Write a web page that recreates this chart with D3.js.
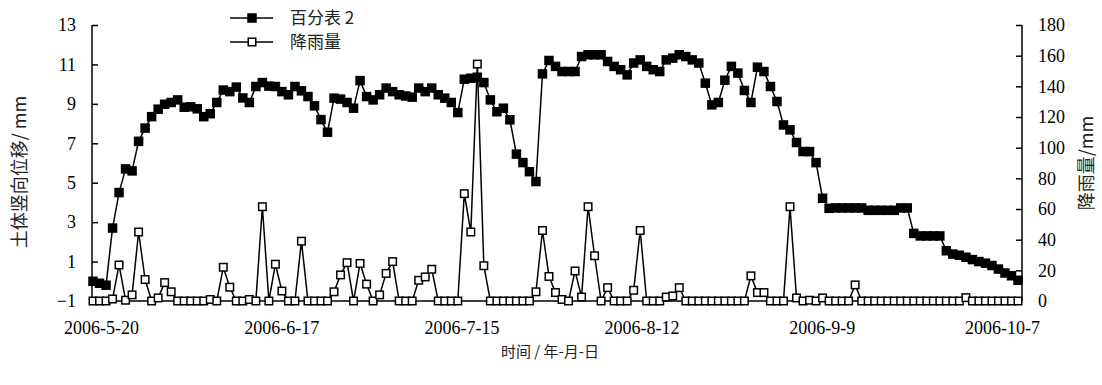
<!DOCTYPE html>
<html>
<head>
<meta charset="utf-8">
<script src="https://cdn.jsdelivr.net/npm/d3@7"></script>
<style>
  body { margin: 0; background: #fff; }
  svg text { fill: #000; }
</style>
</head>
<body>
<svg id="chart" width="1102" height="385"></svg>
<script>
// Daily readings, first observation day
const firstDay = "2006-05-19";

// x-axis tick dates (every 28 days)
const tickDates = ["2006-05-20", "2006-06-17", "2006-07-15", "2006-08-12", "2006-09-09", "2006-10-07"];
const tickDateLabels = ["2006-5-20", "2006-6-17", "2006-7-15", "2006-8-12", "2006-9-9", "2006-10-7"];

// axis ticks
const leftTicks = [-1, 1, 3, 5, 7, 9, 11, 13];
const rightTicks = [0, 20, 40, 60, 80, 100, 120, 140, 160, 180];

// dial gauge 2: vertical soil displacement (mm)
const displacement = [
  0.0, -0.1, -0.2, 2.7, 4.5, 5.7, 5.6, 7.1, 7.77, 8.35,
  8.73, 8.98, 9.07, 9.2, 8.83, 8.85, 8.75, 8.35, 8.5, 9.07,
  9.7, 9.62, 9.85, 9.3, 9.07, 9.88, 10.08, 9.9, 9.88, 9.62,
  9.46, 9.88, 9.66, 9.37, 8.9, 8.2, 7.56, 9.29, 9.24, 9.07,
  8.78, 10.18, 9.37, 9.2, 9.46, 9.8, 9.62, 9.46, 9.4, 9.34,
  9.8, 9.62, 9.8, 9.46, 9.29, 9.07, 8.56, 10.25, 10.3, 10.35,
  10.08, 9.2, 8.6, 8.78, 8.19, 6.45, 6.02, 5.56, 5.06, 10.52,
  11.2, 10.9, 10.64, 10.64, 10.64, 11.4, 11.49, 11.49, 11.49, 11.15,
  10.9, 10.73, 10.47, 11.07, 11.23, 10.9, 10.73, 10.64, 11.23, 11.32,
  11.49, 11.4, 11.23, 11.07, 10.05, 8.95, 9.07, 10.2, 10.9, 10.56,
  9.68, 9.07, 10.86, 10.64, 9.88, 9.12, 7.93, 7.68, 7.04, 6.58,
  6.58, 6.02, 4.21, 3.7, 3.72, 3.72, 3.72, 3.72, 3.72, 3.6,
  3.6, 3.6, 3.6, 3.6, 3.72, 3.72, 2.43, 2.3, 2.3, 2.3,
  2.3, 1.55, 1.38, 1.32, 1.22, 1.1, 1.0, 0.92, 0.8, 0.62,
  0.42, 0.28, 0.05
];

// daily rainfall (mm)
const rainfall = [
  0, 0, 0, 1.3, 23.5, 0.5, 4, 45, 14, 0,
  2, 12, 6, 0, 0, 0, 0, 0, 1, 0,
  22, 9, 0, 0, 1, 0, 61.5, 0, 24, 6.5,
  0, 0, 39, 0, 0, 0, 0, 6, 17, 25,
  0, 24.5, 11, 0, 4, 18, 25.7, 0, 0, 0,
  13.5, 15.7, 20.7, 0, 0, 0, 0, 70, 45, 154.5,
  23, 0, 0, 0, 0, 0, 0, 0, 6, 46,
  16, 5.5, 1, 0, 19.6, 2.6, 61.5, 29.5, 0, 8.7,
  0, 0, 0, 7, 46, 0, 0, 0, 2.6, 3.3,
  8.7, 0, 0, 0, 0, 0, 0, 0, 0, 0,
  0, 16.4, 5.5, 5.5, 0, 0, 0, 61.5, 2, 0,
  0.5, 0, 2, 0, 0, 0, 0, 10.5, 0, 0,
  0, 0, 0, 0, 0, 0, 0, 0, 0, 0,
  0, 0, 0, 0, 2.2, 0, 0, 0, 0, 0,
  0, 0, 0
];

const seriesNames = ["百分表 2", "降雨量"];
const leftTitle = "土体竖向位移/ mm";
const rightTitle = "降雨量/mm";
const bottomTitle = "时间 / 年-月-日";

const parse = d3.timeParse("%Y-%m-%d");
const day0 = parse(firstDay);
const days = displacement.map((_, i) => d3.timeDay.offset(day0, i));

const svg = d3.select("#chart");
const serif = "'Liberation Serif', 'Times New Roman', serif";
const cjk = "'Noto Sans CJK SC', sans-serif";

const plot = { left: 92, right: 1022, top: 25, bottom: 301 };

const x = d3.scaleTime()
  .domain([days[0], days[days.length - 1]])
  .range([93, 1018]);
// date labels sit on their own evenly spaced band under the plot
const xLabel = d3.scaleTime()
  .domain([parse(tickDates[0]), parse(tickDates[tickDates.length - 1])])
  .range([101, 1002]);
const yL = d3.scaleLinear().domain([-1, 13]).range([plot.bottom, plot.top]);
const yR = d3.scaleLinear().domain([0, 180]).range([plot.bottom, plot.top]);

// bottom axis line
svg.append("line")
  .attr("x1", plot.left).attr("x2", plot.right)
  .attr("y1", plot.bottom).attr("y2", plot.bottom)
  .attr("stroke", "#000").attr("stroke-width", 1.5);

// date labels
const xAxis = svg.append("g")
  .attr("transform", `translate(0,${plot.bottom})`)
  .call(d3.axisBottom(xLabel)
    .tickValues(tickDates.map(parse))
    .tickSize(0)
    .tickPadding(20)
    .tickFormat((d, i) => tickDateLabels[i]));
xAxis.select(".domain").remove();
xAxis.selectAll("text")
  .style("font-family", serif).style("font-size", "18px");

// left axis, ticks pointing inward
const gL = svg.append("g")
  .attr("transform", `translate(${plot.left},0)`)
  .call(d3.axisLeft(yL)
    .tickValues(leftTicks)
    .tickSize(-6)
    .tickPadding(16)
    .tickFormat(d => d < 0 ? "\u2212" + Math.abs(d) : d));
gL.select(".domain").attr("stroke-width", 1.5).attr("d", `M0,${plot.top}V${plot.bottom}`);
gL.selectAll(".tick line").attr("stroke-width", 1.5);
gL.selectAll("text").style("font-family", serif).style("font-size", "18px");

// right axis, ticks pointing inward
const gR = svg.append("g")
  .attr("transform", `translate(${plot.right},0)`)
  .call(d3.axisRight(yR)
    .tickValues(rightTicks)
    .tickSize(-6)
    .tickPadding(16));
gR.select(".domain").attr("stroke-width", 1.5).attr("d", `M0,${plot.top}V${plot.bottom}`);
gR.selectAll(".tick line").attr("stroke-width", 1.5);
gR.selectAll("text").style("font-family", serif).style("font-size", "18px");

// axis titles
svg.append("text")
  .attr("transform", `translate(26,${(plot.top + plot.bottom) / 2 + 9}) rotate(-90)`)
  .attr("text-anchor", "middle")
  .style("font-family", cjk).style("font-size", "18px").style("fill", "#222")
  .text(leftTitle);

svg.append("text")
  .attr("transform", `translate(1093,${(plot.top + plot.bottom) / 2}) rotate(-90)`)
  .attr("text-anchor", "middle")
  .style("font-family", cjk).style("font-size", "18px").style("fill", "#222")
  .text(rightTitle);

svg.append("text")
  .attr("x", 550).attr("y", 357)
  .attr("text-anchor", "middle")
  .style("font-family", cjk).style("font-size", "15px").style("fill", "#222")
  .text(bottomTitle);

// displacement series: filled squares
const lineL = d3.line().x((d, i) => x(days[i])).y(d => yL(d));
svg.append("path")
  .datum(displacement)
  .attr("d", lineL)
  .attr("fill", "none").attr("stroke", "#000").attr("stroke-width", 1.5);
const fs = 9.5;
svg.append("g").selectAll("rect")
  .data(displacement)
  .join("rect")
  .attr("x", (d, i) => x(days[i]) - fs / 2)
  .attr("y", d => yL(d) - fs / 2)
  .attr("width", fs).attr("height", fs)
  .attr("fill", "#000");

// rainfall series: open squares
const lineR = d3.line().x((d, i) => x(days[i])).y(d => yR(d));
svg.append("path")
  .datum(rainfall)
  .attr("d", lineR)
  .attr("fill", "none").attr("stroke", "#000").attr("stroke-width", 1.5);
const os = 7.5;
svg.append("g").selectAll("rect")
  .data(rainfall)
  .join("rect")
  .attr("x", (d, i) => x(days[i]) - os / 2)
  .attr("y", d => yR(d) - os / 2)
  .attr("width", os).attr("height", os)
  .attr("fill", "#fff").attr("stroke", "#000").attr("stroke-width", 1.5);

// legend
const legend = svg.append("g");
const legendRows = [
  { name: seriesNames[0], y: 18, filled: true },
  { name: seriesNames[1], y: 42, filled: false }
];
legendRows.forEach(r => {
  legend.append("line")
    .attr("x1", 230).attr("x2", 273).attr("y1", r.y).attr("y2", r.y)
    .attr("stroke", "#000").attr("stroke-width", 1.5);
  const s = r.filled ? fs : os;
  legend.append("rect")
    .attr("x", 252 - s / 2).attr("y", r.y - s / 2)
    .attr("width", s).attr("height", s)
    .attr("fill", r.filled ? "#000" : "#fff")
    .attr("stroke", "#000").attr("stroke-width", r.filled ? 0 : 1.5);
  legend.append("text")
    .attr("x", 290).attr("y", r.y + 6)
    .style("font-family", cjk).style("font-size", "17px").style("fill", "#222")
    .text(r.name);
});
</script>
</body>
</html>
